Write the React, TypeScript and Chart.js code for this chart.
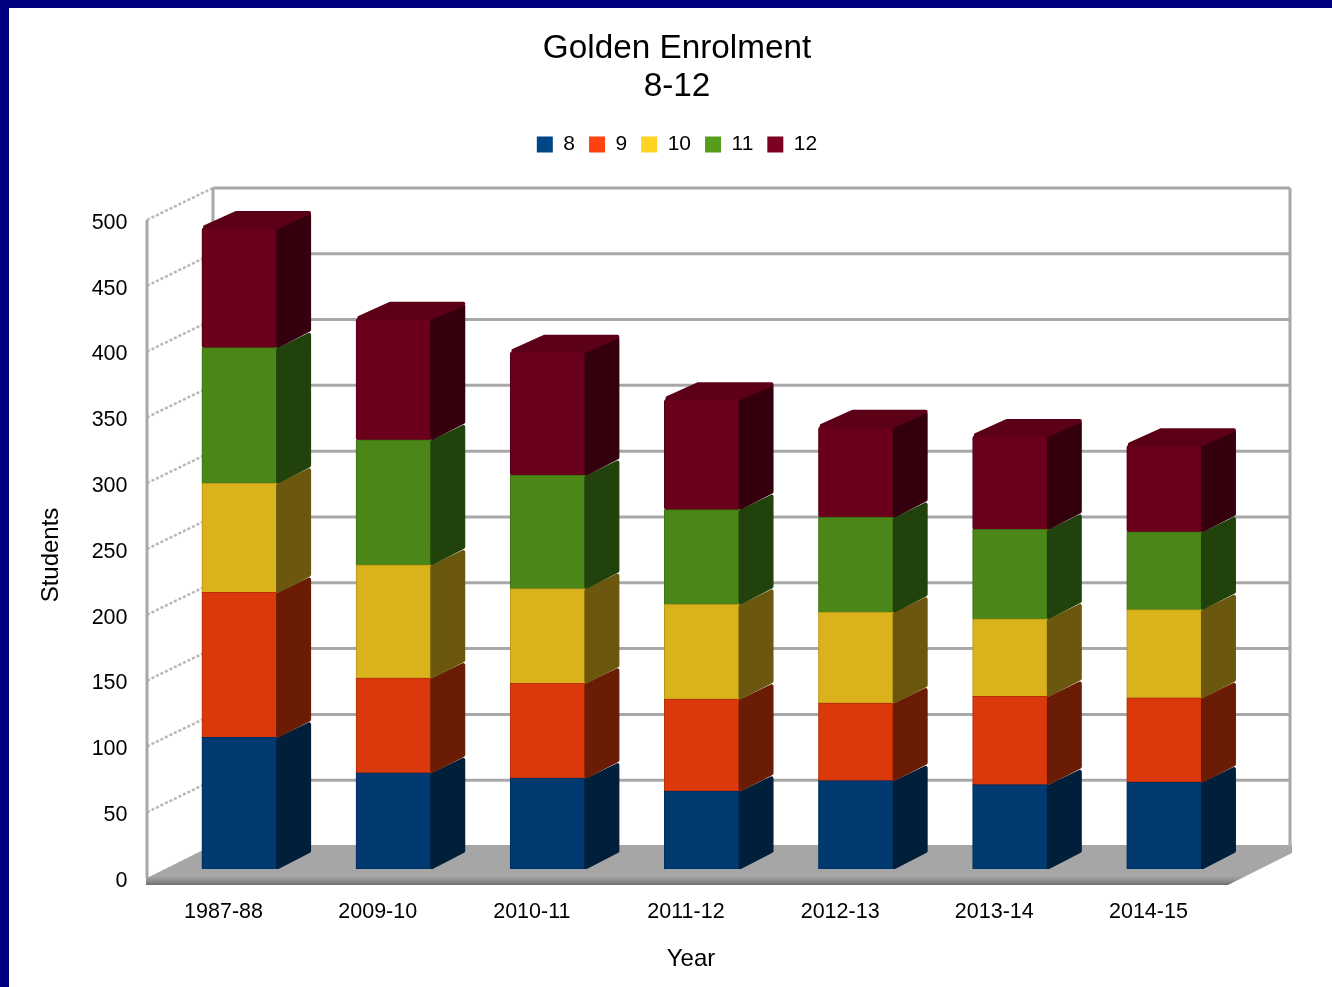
import React, { useEffect, useRef } from "react";
import { Chart, registerables } from "chart.js";

Chart.register(...registerables);

const categories = ["1987-88", "2009-10", "2010-11", "2011-12", "2012-13", "2013-14", "2014-15"];
const seriesNames = ["8", "9", "10", "11", "12"];
const grade8 = [100, 73, 69, 59, 67, 64, 66];
const grade9 = [110, 72, 72, 70, 59, 67, 64];
const grade10 = [83, 86, 72, 72, 69, 59, 67];
const grade11 = [103, 95, 86, 72, 72, 68, 59];
const grade12 = [91, 92, 94, 84, 69, 71, 66];
const seriesValues = [grade8, grade9, grade10, grade11, grade12];

const legendColors = ["#004586", "#ff420e", "#ffd320", "#579d1c", "#7e0021"];
const frontColors = ["#003a70", "#db390b", "#dab31c", "#4b8619", "#6a001b"];
const edgeColors = ["#002f5c", "#b5300a", "#b69516", "#3e7014", "#560016"];
const sideColors = ["#001f3b", "#6a1c05", "#6b580e", "#22420b", "#35000e"];
const topColor = "#5c0017";

const chartTitle = ["Golden Enrolment", "8-12"];
const xTitle = "Year";
const yTitle = "Students";
const FONT = "'Liberation Sans', Arial, sans-serif";
const GREY = "#a8a8a8";

const DX = 34;
const DY = 16;

const wallPlugin = {
  id: "walls",
  beforeInit(chart: any) {
    const legend = chart.legend;
    const orig = legend.fit;
    legend.fit = function () {
      orig.call(this);
      this.height += 46;
    };
  },
  beforeDatasetsDraw(chart: any) {
    const { ctx, chartArea, scales } = chart;
    const y = scales.y;
    const fl = chartArea.left - 15.5;
    const bl = chartArea.left + 50.5;
    const br = chartArea.right + 48.5;
    const fr = chartArea.right - 13.5;
    const y0 = y.getPixelForValue(0);
    ctx.save();
    // wall gridlines
    ctx.lineCap = "butt";
    for (const t of y.ticks) {
      const p = y.getPixelForValue(t.value);
      ctx.strokeStyle = GREY;
      ctx.lineWidth = 3;
      ctx.setLineDash([]);
      if (t.value > 0) {
        ctx.beginPath();
        ctx.moveTo(bl, p - 23);
        ctx.lineTo(br, p - 23);
        ctx.stroke();
      }
      ctx.lineWidth = 2.5;
      ctx.strokeStyle = "#b8b8b8";
      ctx.setLineDash([3, 2]);
      if (t.value > 0) {
        ctx.beginPath();
        ctx.moveTo(fl, p + 9);
        ctx.lineTo(bl, p - 23);
        ctx.stroke();
      }
    }
    ctx.setLineDash([]);
    ctx.strokeStyle = GREY;
    ctx.lineWidth = 3;
    const top = y.getPixelForValue(500);
    ctx.beginPath();
    ctx.moveTo(fl, top + 9);
    ctx.lineTo(fl, y0 + 9);
    ctx.moveTo(bl, top - 23);
    ctx.lineTo(bl, y0 - 24);
    ctx.moveTo(br, top - 23);
    ctx.lineTo(br, y0 - 24);
    ctx.stroke();
    // floor
    ctx.fillStyle = "#a6a6a6";
    ctx.beginPath();
    ctx.moveTo(fl, y0 + 9);
    ctx.lineTo(bl, y0 - 24);
    ctx.lineTo(br + 2, y0 - 24);
    ctx.lineTo(fr, y0 + 9);
    ctx.closePath();
    ctx.fill();
    // floor front edge
    const g = ctx.createLinearGradient(0, y0 + 7, 0, y0 + 16);
    g.addColorStop(0, "#a6a6a6");
    g.addColorStop(0.6, "#8a8a8a");
    g.addColorStop(1, "#6e6e6e");
    ctx.fillStyle = g;
    ctx.beginPath();
    ctx.moveTo(fl - 1, y0 + 8);
    ctx.lineTo(fr, y0 + 8);
    ctx.lineTo(br + 2, y0 - 24);
    ctx.lineTo(br + 2, y0 - 16);
    ctx.lineTo(fr, y0 + 16);
    ctx.lineTo(fl - 1, y0 + 16);
    ctx.closePath();
    ctx.fill();
    ctx.restore();
  },
  afterDatasetsDraw(chart: any) {
    const { ctx } = chart;
    ctx.save();
    ctx.lineJoin = "round";
    ctx.lineWidth = 4;
    seriesValues.forEach((_, di) => {
      const meta = chart.getDatasetMeta(di);
      meta.data.forEach((bar: any) => {
        const { x, y, base, width } = bar.getProps(["x", "y", "base", "width"], true);
        const r = x + width / 2;
        const l = x - width / 2;
        ctx.fillStyle = sideColors[di];
        ctx.strokeStyle = sideColors[di];
        ctx.beginPath();
        ctx.moveTo(r + 1, y + 2);
        ctx.lineTo(r + DX - 2, y - DY + 3);
        ctx.lineTo(r + DX - 2, base - DY - 2);
        ctx.lineTo(r + 1, base - 2);
        ctx.closePath();
        ctx.fill();
        ctx.stroke();
        if (di === seriesValues.length - 1) {
          ctx.fillStyle = topColor;
          ctx.strokeStyle = topColor;
          ctx.beginPath();
          ctx.moveTo(l + 3, y - 1);
          ctx.lineTo(l + DX, y - DY + 1);
          ctx.lineTo(r + DX - 2, y - DY + 1);
          ctx.lineTo(r, y - 1);
          ctx.closePath();
          ctx.fill();
          ctx.stroke();
        }
      });
    });
    ctx.restore();
  },
  afterDraw(chart: any) {
    const { ctx } = chart;
    ctx.save();
    ctx.fillStyle = "#000";
    ctx.font = `24px ${FONT}`;
    ctx.textAlign = "center";
    ctx.textBaseline = "middle";
    ctx.fillText(xTitle, 691, 959);
    ctx.translate(51.5, 555);
    ctx.rotate(-Math.PI / 2);
    ctx.fillText(yTitle, 0, 0);
    ctx.restore();
  },
};

export default function App() {
  const ref = useRef<HTMLCanvasElement | null>(null);
  useEffect(() => {
    const chart = new Chart(ref.current as HTMLCanvasElement, {
      type: "bar",
      data: {
        labels: categories,
        datasets: seriesNames.map((name, i) => ({
          label: name,
          data: seriesValues[i],
          backgroundColor: frontColors[i],
          borderColor: edgeColors[i],
          borderWidth: 1,
          borderRadius: 3,
          borderSkipped: false,
          inflateAmount: 0.5,
        })),
      },
      options: {
        animation: false,
        responsive: false,
        categoryPercentage: 1,
        barPercentage: 0.487,
        layout: { padding: { left: 112.5, right: 90.5, top: 0, bottom: 0 } },
        plugins: {
          title: {
            display: true,
            text: chartTitle,
            color: "#000",
            font: { family: FONT, size: 33.3, weight: "normal", lineHeight: 1.14 },
            padding: { top: 30, bottom: 14 },
          },
          legend: {
            display: true,
            position: "top",
            labels: {
              boxWidth: 16,
              boxHeight: 16,
              padding: 14,
              color: "#000",
              font: { family: FONT, size: 21 },
              generateLabels: () =>
                seriesNames.map((name, i) => ({
                  text: name,
                  fillStyle: legendColors[i],
                  strokeStyle: legendColors[i],
                  lineWidth: 0,
                  datasetIndex: i,
                })),
            },
          },
          tooltip: { enabled: false },
        },
        scales: {
          x: {
            stacked: true,
            grid: { display: false },
            border: { display: false },
            afterFit: (s: any) => {
              s.height = 118;
            },
            ticks: {
              color: "#000",
              font: { family: FONT, size: 21.5 },
              labelOffset: -16,
              padding: 22,
              maxRotation: 0,
              autoSkip: false,
            },
          },
          y: {
            stacked: true,
            min: 0,
            max: 500,
            grid: { display: false, drawTicks: false },
            border: { display: false },
            afterFit: (s: any) => {
              s.width = 50;
              s._computeLabelArea = () => undefined;
            },
            ticks: {
              stepSize: 50,
              color: "#000",
              font: { family: FONT, size: 21.5 },
              labelOffset: 12,
              padding: 35,
            },
          },
        },
      } as any,
      plugins: [wallPlugin],
    });
    return () => chart.destroy();
  }, []);

  return (
    <div style={{ position: "fixed", left: 0, top: 0, width: 1332, height: 987, overflow: "hidden", background: "#fff" }}>
      <canvas ref={ref} width={1332} height={987} style={{ position: "absolute", left: 0, top: 0, display: "block", filter: "blur(0.6px)" }} />
      <div style={{ position: "absolute", left: 0, top: 0, width: 1332, height: 8, background: "#000080" }} />
      <div style={{ position: "absolute", left: 0, top: 0, width: 9, height: 987, background: "#000080" }} />
    </div>
  );
}
